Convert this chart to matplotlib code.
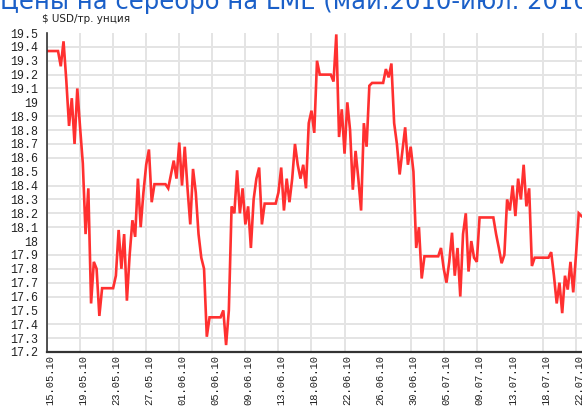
import matplotlib

matplotlib.use("Agg")
import matplotlib.pyplot as plt
from matplotlib.transforms import ScaledTranslation

# silver price, USD per troy ounce (12 samples per tick step)
price = [
    19.37, 19.37, 19.37, 19.37, 19.37, 19.26, 19.44, 19.16, 18.83, 19.03,
    18.70, 19.10, 18.82, 18.56, 18.05, 18.38, 17.55, 17.85, 17.80, 17.46,
    17.66, 17.66, 17.66, 17.66, 17.66, 17.75, 18.08, 17.80, 18.05, 17.57,
    17.90, 18.15, 18.03, 18.45, 18.10, 18.35, 18.55, 18.66, 18.28, 18.41,
    18.41, 18.41, 18.41, 18.41, 18.38, 18.48, 18.58, 18.45, 18.71, 18.40,
    18.68, 18.38, 18.12, 18.52, 18.35, 18.05, 17.88, 17.80, 17.31, 17.45,
    17.45, 17.45, 17.45, 17.45, 17.50, 17.25, 17.50, 18.25, 18.20, 18.51,
    18.20, 18.38, 18.12, 18.25, 17.95, 18.30, 18.45, 18.53, 18.12, 18.27,
    18.27, 18.27, 18.27, 18.27, 18.35, 18.53, 18.22, 18.45, 18.28, 18.45,
    18.70, 18.55, 18.45, 18.55, 18.38, 18.85, 18.94, 18.78, 19.30, 19.20,
    19.20, 19.20, 19.20, 19.20, 19.15, 19.49, 18.75, 18.95, 18.63, 19.00,
    18.80, 18.37, 18.65, 18.45, 18.22, 18.85, 18.68, 19.12, 19.14, 19.14,
    19.14, 19.14, 19.14, 19.24, 19.18, 19.28, 18.85, 18.70, 18.48, 18.65,
    18.82, 18.55, 18.68, 18.50, 17.95, 18.10, 17.73, 17.89, 17.89, 17.89,
    17.89, 17.89, 17.89, 17.95, 17.80, 17.70, 17.85, 18.06, 17.75, 17.95,
    17.60, 18.05, 18.20, 17.78, 18.00, 17.88, 17.85, 18.17, 18.17, 18.17,
    18.17, 18.17, 18.17, 18.05, 17.95, 17.84, 17.90, 18.30, 18.22, 18.40,
    18.18, 18.45, 18.30, 18.55, 18.25, 18.38, 17.82, 17.88, 17.88, 17.88,
    17.88, 17.88, 17.88, 17.92, 17.75, 17.55, 17.70, 17.48, 17.75, 17.65,
    17.85, 17.63, 17.90, 18.20, 18.18,
]
dates = [
    "15.05.10", "19.05.10", "23.05.10", "27.05.10", "01.06.10", "05.06.10",
    "09.06.10", "13.06.10", "18.06.10", "22.06.10", "26.06.10", "30.06.10",
    "05.07.10", "09.07.10", "13.07.10", "18.07.10", "22.07.10",
]
y_ticks = [round(17.2 + 0.1 * k, 1) for k in range(24)]
STEP = 12

fig = plt.figure(figsize=(5.82, 4.07), dpi=100)
ax = fig.add_axes([47 / 582, 55 / 407, (581.5 - 47) / 582, 319 / 407])

ax.plot(range(len(price)), price, color="#ff3030", lw=1.9, solid_joinstyle="miter")
ax.set_xlim(0, len(price) - 1)
ax.set_ylim(17.2, 19.5)

ax.set_yticks(y_ticks)
ax.set_yticklabels([f"{v:g}" for v in y_ticks], family="Liberation Mono", fontsize=8.4, color="#222222")
ax.set_xticks([i * STEP for i in range(len(dates))])
ax.set_xticklabels(dates, rotation=90, family="Liberation Mono", fontsize=7.6, color="#222222")
ax.tick_params(length=0, pad=6)
ax.tick_params(axis="x", pad=2)
shift = ScaledTranslation(3 / 100, 0, fig.dpi_scale_trans)
for lab in ax.get_xticklabels():
    lab.set_transform(lab.get_transform() + shift)

ax.grid(color="#e4e4e4", lw=1.4)
ax.set_axisbelow(True)
# the round levels and two date columns carry no grid line in the original
for ln, v in zip(ax.yaxis.get_gridlines(), y_ticks):
    if abs(v * 2 - round(v * 2)) < 1e-6:
        ln.set_visible(False)
for k in (10, 14):
    ax.xaxis.get_gridlines()[k].set_visible(False)

for s in ("top", "right"):
    ax.spines[s].set_visible(False)
ax.spines["left"].set_color("#333333")
ax.spines["left"].set_linewidth(1.2)
ax.spines["bottom"].set_color("#333333")
ax.spines["bottom"].set_linewidth(1.6)

fig.text(0.0, 1 - 9 / 407, "Цены на серебро на LME (май.2010-июл. 2010)", fontsize=17.5,
         color="#1a5fc8", ha="left", va="baseline")
fig.text(42 / 582, 1 - 22 / 407, "$ USD/тр. унция", fontsize=7.5, color="#222222",
         ha="left", va="baseline")

fig.savefig("out.png", dpi=100)
